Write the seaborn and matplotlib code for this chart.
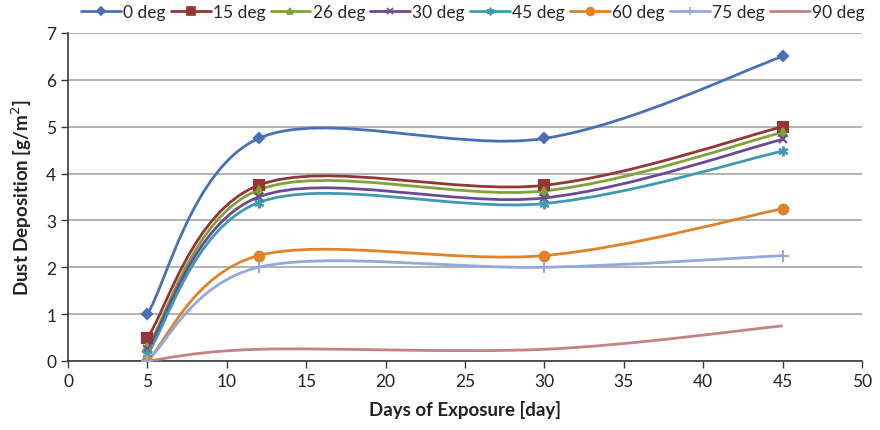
import numpy as np
import matplotlib
matplotlib.use('Agg')
import matplotlib.pyplot as plt
from matplotlib.path import Path
from matplotlib.patches import PathPatch
from matplotlib.lines import Line2D
import seaborn as sns

# data
days = [5, 12, 30, 45]
series_names = ['0 deg', '15 deg', '26 deg', '30 deg', '45 deg', '60 deg', '75 deg', '90 deg']
deg_0 = [1.0, 4.75, 4.75, 6.5]
deg_15 = [0.5, 3.75, 3.75, 5.0]
deg_26 = [0.3, 3.65, 3.63, 4.88]
deg_30 = [0.25, 3.5, 3.48, 4.73]
deg_45 = [0.15, 3.38, 3.36, 4.48]
deg_60 = [0.0, 2.25, 2.25, 3.25]
deg_75 = [0.0, 2.0, 2.0, 2.25]
deg_90 = [0.0, 0.25, 0.25, 0.75]
values = [deg_0, deg_15, deg_26, deg_30, deg_45, deg_60, deg_75, deg_90]

colors = ['#4A6FB5', '#943634', '#7FA23A', '#6A4A95', '#3F9AB0', '#E0822A', '#94A8DA', '#C48383']
markers = ['D', 's', '^', 'x', (6, 2, 0), 'o', '+', '']
msizes = [5, 7, 6, 6, 7, 7, 8, 0]

sns.set_style('white')
plt.rcParams['font.family'] = ['Lato', 'DejaVu Sans']

fig = plt.figure(figsize=(8.8, 4.31), dpi=100)
ax = fig.add_axes([68 / 880, 69 / 431, 794 / 880, 328 / 431])


def smooth_path(xs, ys):
    # Excel-like smoothed line: cubic Bezier segments through the points
    pts = np.column_stack([xs, ys]).astype(float)
    n = len(pts)
    verts = [pts[0]]
    codes = [Path.MOVETO]
    for i in range(n - 1):
        p0 = pts[i - 1] if i > 0 else pts[i]
        p1 = pts[i]
        p2 = pts[i + 1]
        p3 = pts[i + 2] if i + 2 < n else pts[i + 1]
        c1 = p1 + (p2 - p0) / 6
        c2 = p2 - (p3 - p1) / 6
        verts += [c1, c2, p2]
        codes += [Path.CURVE4] * 3
    return Path(verts, codes)


handles = []
for name, vals, c, m, ms in zip(series_names, values, colors, markers, msizes):
    ax.add_patch(PathPatch(smooth_path(days, vals), facecolor='none', edgecolor=c, lw=2, zorder=3))
    if m:
        sns.lineplot(x=days, y=vals, ax=ax, color=c, marker=m, markersize=ms, linestyle='',
                     markeredgecolor=c, markeredgewidth=1.5, zorder=4, legend=False)
    handles.append(Line2D([], [], color=c, lw=2, marker=m if m else None, markersize=ms * 0.8,
                          markeredgecolor=c, markeredgewidth=1.2))

ax.set_xlim(0, 50)
ax.set_ylim(0, 7)
ax.set_xticks(range(0, 51, 5))
ax.set_yticks(range(0, 8))
ax.yaxis.grid(True, color='#A6A6A6', lw=1.2)
ax.xaxis.grid(False)
ax.set_axisbelow(True)
for s in ['top', 'right']:
    ax.spines[s].set_visible(False)
for s in ['left', 'bottom']:
    ax.spines[s].set_color('#3a3a3a')
    ax.spines[s].set_linewidth(1.2)
ax.tick_params(axis='both', direction='out', length=5, width=1, color='#3a3a3a',
               labelsize=12.5, labelcolor='#222222', bottom=True, left=True)

ax.set_xlabel('Days of Exposure [day]', fontsize=13.5, fontweight='bold', color='#222222', labelpad=8)
ax.set_ylabel('Dust Deposition [g/m$^2$]', fontsize=13.5, fontweight='bold', color='#222222', labelpad=9)

fig.legend(handles=handles, labels=series_names, loc='upper right', bbox_to_anchor=(1.0, 1.025),
           ncol=8, frameon=False, fontsize=12.5, handlelength=2.3, handletextpad=0.12,
           columnspacing=0.3)

fig.savefig('out.png', dpi=100)
